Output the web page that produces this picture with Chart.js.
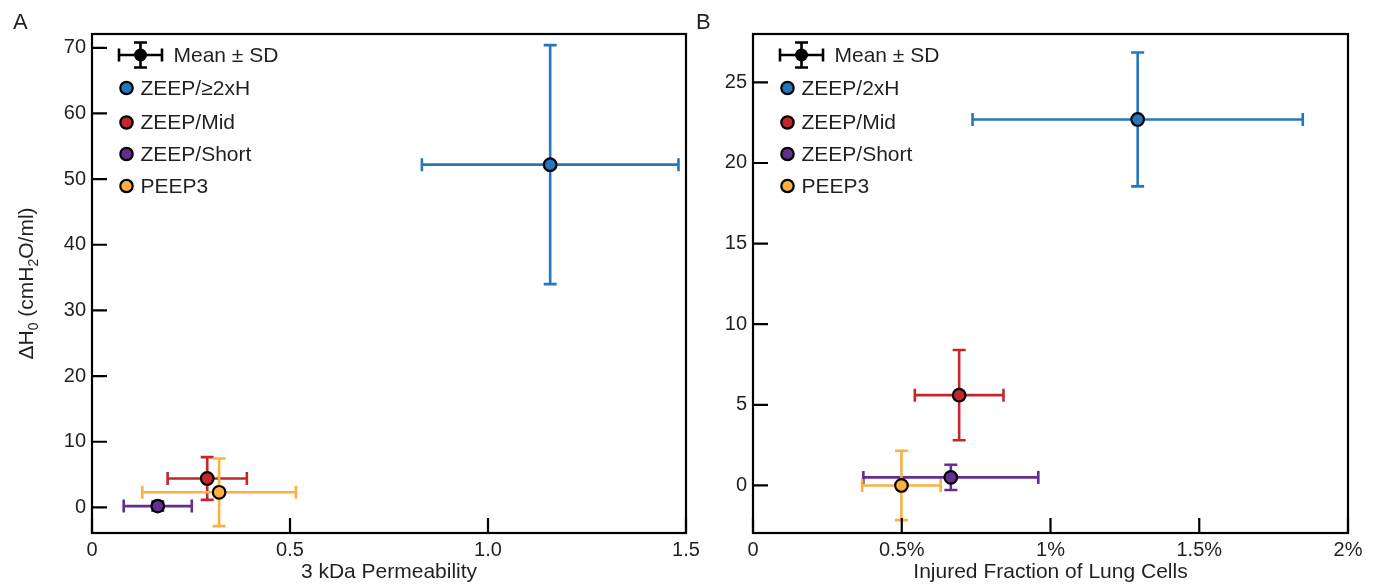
<!DOCTYPE html>
<html>
<head>
<meta charset="utf-8">
<script src="https://cdn.jsdelivr.net/npm/chart.js@4.4.1/dist/chart.umd.min.js"></script>
<style>
  body { margin: 0; background: #fff; }
  #wrap { position: relative; width: 1375px; height: 586px; overflow: hidden; }
  canvas { position: absolute; top: 0; }
</style>
</head>
<body>
<div id="wrap">
  <canvas id="chartA" width="720" height="586" style="left:0"></canvas>
  <canvas id="chartB" width="685" height="586" style="left:690px"></canvas>
</div>
<script>
// groups (same order in both panels)
const groupsA = ["ZEEP/≥2xH", "ZEEP/Mid", "ZEEP/Short", "PEEP3"];
const groupsB = ["ZEEP/2xH", "ZEEP/Mid", "ZEEP/Short", "PEEP3"];
const groupColors = ["#2577bd", "#c1272d", "#662d91", "#fbb040"];

// panel A: 3 kDa permeability vs ΔH0
const permMean = [1.157, 0.291, 0.166, 0.321];
const permSD   = [0.324, 0.100, 0.086, 0.194];
const dH0MeanA = [52.2, 4.4, 0.2, 2.3];
const dH0SDA   = [18.2, 3.25, 0.7, 5.15];

// panel B: injured fraction (%) vs ΔH0
const injuredMean = [1.293, 0.693, 0.665, 0.499];
const injuredSD   = [0.555, 0.149, 0.294, 0.132];
const dH0MeanB = [22.7, 5.6, 0.5, 0.0];
const dH0SDB   = [4.15, 2.8, 0.78, 2.15];

// ticks
const xTicksA = [0, 0.5, 1.0, 1.5];
const xTickLabelsA = ["0", "0.5", "1.0", "1.5"];
const yTicksA = [0, 10, 20, 30, 40, 50, 60, 70];
const xTicksB = [0, 0.5, 1, 1.5, 2];
const xTickLabelsB = ["0", "0.5%", "1%", "1.5%", "2%"];
const yTicksB = [0, 5, 10, 15, 20, 25];

const ink = "#231f20";
const family = "'Liberation Sans', Arial, sans-serif";

// error bars under the markers
const errorBarPlugin = {
    id: "errorBars",
    beforeDatasetsDraw(chart) {
        const ctx = chart.ctx;
        const xs = chart.scales.x, ys = chart.scales.y;
        const cap = 6.5;
        chart.data.datasets.forEach(ds => {
            ds.data.forEach(p => {
                const cx = xs.getPixelForValue(p.x), cy = ys.getPixelForValue(p.y);
                const x0 = xs.getPixelForValue(p.x - p.xErr), x1 = xs.getPixelForValue(p.x + p.xErr);
                const y0 = ys.getPixelForValue(p.y - p.yErr), y1 = ys.getPixelForValue(p.y + p.yErr);
                ctx.save();
                ctx.strokeStyle = ds.backgroundColor;
                ctx.lineWidth = 2.6;
                ctx.beginPath();
                ctx.moveTo(x0, cy); ctx.lineTo(x1, cy);
                ctx.moveTo(cx, y0); ctx.lineTo(cx, y1);
                ctx.moveTo(x0, cy - cap); ctx.lineTo(x0, cy + cap);
                ctx.moveTo(x1, cy - cap); ctx.lineTo(x1, cy + cap);
                ctx.moveTo(cx - cap, y0); ctx.lineTo(cx + cap, y0);
                ctx.moveTo(cx - cap, y1); ctx.lineTo(cx + cap, y1);
                ctx.stroke();
                ctx.restore();
            });
        });
    }
};

// box frame, inward ticks, legend, panel letter, y title
const decorPlugin = {
    id: "decor",
    afterDraw(chart, args, opts) {
        const ctx = chart.ctx;
        const a = chart.chartArea;
        const xs = chart.scales.x, ys = chart.scales.y;
        ctx.save();
        ctx.strokeStyle = "#000";
        ctx.lineWidth = 2.2;
        ctx.strokeRect(a.left, a.top, a.right - a.left, a.bottom - a.top);
        ctx.beginPath();
        xs.ticks.forEach(t => {
            const px = xs.getPixelForValue(t.value);
            ctx.moveTo(px, a.bottom); ctx.lineTo(px, a.bottom - 15);
        });
        ys.ticks.forEach(t => {
            const py = ys.getPixelForValue(t.value);
            ctx.moveTo(a.left, py); ctx.lineTo(a.left + 15, py);
        });
        ctx.stroke();

        // legend
        const L = a.left, T = a.top;
        ctx.fillStyle = ink;
        ctx.font = "21px " + family;
        ctx.textBaseline = "middle";
        ctx.textAlign = "left";
        const cx = L + 48.5, cy = T + 21;
        ctx.strokeStyle = "#000";
        ctx.lineWidth = 2.6;
        ctx.beginPath();
        ctx.moveTo(cx - 21.5, cy); ctx.lineTo(cx + 21.5, cy);
        ctx.moveTo(cx, cy - 12.5); ctx.lineTo(cx, cy + 12.5);
        ctx.moveTo(cx - 21.5, cy - 6.5); ctx.lineTo(cx - 21.5, cy + 6.5);
        ctx.moveTo(cx + 21.5, cy - 6.5); ctx.lineTo(cx + 21.5, cy + 6.5);
        ctx.moveTo(cx - 6.5, cy - 12.5); ctx.lineTo(cx + 6.5, cy - 12.5);
        ctx.moveTo(cx - 6.5, cy + 12.5); ctx.lineTo(cx + 6.5, cy + 12.5);
        ctx.stroke();
        ctx.fillStyle = "#000";
        ctx.beginPath(); ctx.arc(cx, cy, 6.5, 0, Math.PI * 2); ctx.fill();
        ctx.fillStyle = ink;
        ctx.fillText("Mean ± SD", L + 81.5, cy + 1);

        const rowsY = [54, 88.5, 120, 152];
        chart.data.datasets.forEach((ds, i) => {
            const y = T + rowsY[i];
            ctx.beginPath();
            ctx.arc(L + 34.5, y, 6.2, 0, Math.PI * 2);
            ctx.fillStyle = ds.backgroundColor;
            ctx.fill();
            ctx.lineWidth = 2.2;
            ctx.strokeStyle = "#000";
            ctx.stroke();
            ctx.fillStyle = ink;
            ctx.fillText(ds.label, L + 48.5, y + 1);
        });

        // panel letter
        ctx.textBaseline = "alphabetic";
        ctx.font = "22px " + family;
        ctx.fillText(opts.letter, opts.letterX, 29);

        // y title with subscripts
        if (opts.yTitle) {
            ctx.translate(33, (a.top + a.bottom) / 2);
            ctx.rotate(-Math.PI / 2);
            const parts = opts.yTitle;
            const mainFont = "21px " + family, subFont = "14px " + family;
            let total = 0;
            parts.forEach(p => { ctx.font = p.sub ? subFont : mainFont; total += ctx.measureText(p.t).width; });
            let x = -total / 2;
            parts.forEach(p => {
                ctx.font = p.sub ? subFont : mainFont;
                ctx.fillText(p.t, x, p.sub ? 5 : 0);
                x += ctx.measureText(p.t).width;
            });
        }
        ctx.restore();
    }
};

function axis(ticks, labels, min, max, size, isX, title) {
    return {
        type: "linear",
        min: min,
        max: max,
        grid: { display: false, drawTicks: false, tickLength: 0 },
        border: { display: false },
        afterBuildTicks: s => { s.ticks = ticks.map(v => ({ value: v })); },
        ticks: {
            color: ink,
            font: { family: family, size: 20 },
            padding: isX ? 5 : 6,
            autoSkip: false,
            maxRotation: 0,
            callback: (v, i) => labels ? labels[i] : String(ticks[i])
        },
        afterFit: s => {
            if (isX) s.height = size; else s.width = size;
            s.paddingLeft = 0; s.paddingRight = 0; s.paddingTop = 0; s.paddingBottom = 0;
        },
        title: title ? {
            display: true,
            text: title,
            color: ink,
            font: { family: family, size: 21 },
            padding: { top: 0, bottom: 1 }
        } : { display: false }
    };
}

function buildDatasets(labels, xm, xsd, ym, ysd) {
    return labels.map((name, i) => ({
        label: name,
        data: [{ x: xm[i], y: ym[i], xErr: xsd[i], yErr: ysd[i] }],
        backgroundColor: groupColors[i],
        borderColor: "#000",
        pointRadius: 6.3,
        pointBorderWidth: 2.2,
        pointHoverRadius: 6.3
    }));
}

new Chart(document.getElementById("chartA"), {
    type: "scatter",
    data: { datasets: buildDatasets(groupsA, permMean, permSD, dH0MeanA, dH0SDA) },
    options: {
        responsive: false,
        animation: false,
        layout: { padding: { left: 0, top: 34, right: 34, bottom: 0 } },
        scales: {
            x: axis(xTicksA, xTickLabelsA, 0, 1.5, 53, true, "3 kDa Permeability"),
            y: axis(yTicksA, null, -3.9, 72.1, 92, false, null)
        },
        plugins: {
            legend: { display: false },
            tooltip: { enabled: false },
            decor: {
                letter: "A", letterX: 13,
                yTitle: [
                    { t: "ΔH", sub: false }, { t: "0", sub: true },
                    { t: " (cmH", sub: false }, { t: "2", sub: true },
                    { t: "O/ml)", sub: false }
                ]
            }
        }
    },
    plugins: [errorBarPlugin, decorPlugin]
});

new Chart(document.getElementById("chartB"), {
    type: "scatter",
    data: { datasets: buildDatasets(groupsB, injuredMean, injuredSD, dH0MeanB, dH0SDB) },
    options: {
        responsive: false,
        animation: false,
        layout: { padding: { left: 0, top: 34, right: 27, bottom: 0 } },
        scales: {
            x: axis(xTicksB, xTickLabelsB, 0, 2, 53, true, "Injured Fraction of Lung Cells"),
            y: axis(yTicksB, null, -2.95, 28, 63, false, null)
        },
        plugins: {
            legend: { display: false },
            tooltip: { enabled: false },
            decor: { letter: "B", letterX: 6, yTitle: null }
        }
    },
    plugins: [errorBarPlugin, decorPlugin]
});
</script>
</body>
</html>
